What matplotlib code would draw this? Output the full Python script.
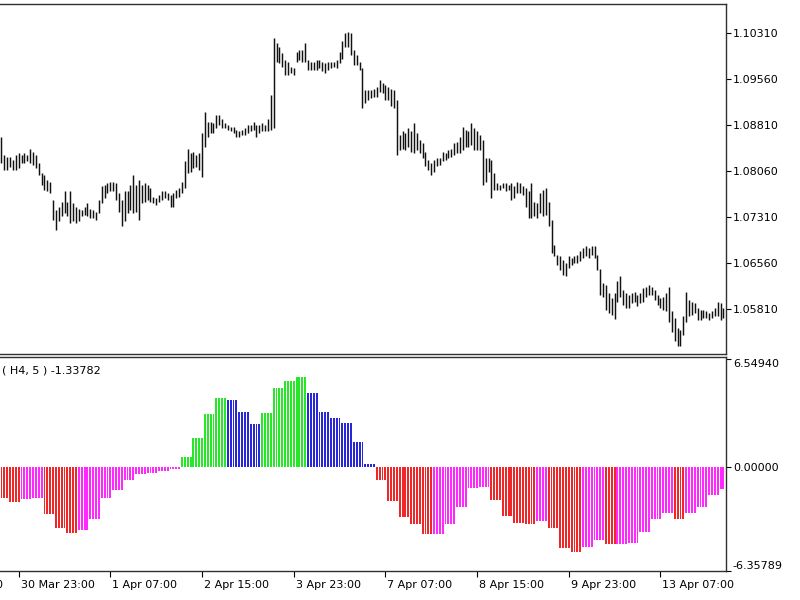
import numpy as np
import matplotlib.pyplot as plt

# H1 bars, EURUSD-like (high / low per bar)
highs = [
    1.0862, 1.0832, 1.0830, 1.0830, 1.0824, 1.0832, 1.0835, 1.0832, 1.0835, 1.0832,
    1.0843, 1.0838, 1.0832, 1.0819, 1.0803, 1.0800, 1.0792, 1.0789, 1.0759, 1.0743,
    1.0748, 1.0756, 1.0773, 1.0756, 1.0773, 1.0754, 1.0748, 1.0745, 1.0743, 1.0748,
    1.0754, 1.0745, 1.0743, 1.0740, 1.0759, 1.0781, 1.0784, 1.0786, 1.0789, 1.0789,
    1.0786, 1.0770, 1.0759, 1.0773, 1.0773, 1.0784, 1.0800, 1.0784, 1.0792, 1.0784,
    1.0786, 1.0784, 1.0778, 1.0764, 1.0762, 1.0767, 1.0773, 1.0773, 1.0770, 1.0767,
    1.0770, 1.0775, 1.0778, 1.0789, 1.0822, 1.0843, 1.0835, 1.0838, 1.0832, 1.0835,
    1.0868, 1.0903, 1.0887, 1.0887, 1.0884, 1.0898, 1.0898, 1.0892, 1.0884, 1.0881,
    1.0879, 1.0879, 1.0873, 1.0871, 1.0873, 1.0876, 1.0881, 1.0881, 1.0887, 1.0881,
    1.0881, 1.0884, 1.0881, 1.0892, 1.0931, 1.1023, 1.1015, 1.1009, 1.0999, 1.0988,
    1.0985, 1.0977, 1.0974, 1.1001, 1.1004, 1.1004, 1.1015, 1.0988, 1.0985, 1.0985,
    1.0988, 1.0988, 1.0985, 1.0982, 1.0985, 1.0985, 1.0985, 1.0988, 1.1001, 1.1018,
    1.1031, 1.1034, 1.1031, 1.1004, 1.0996, 1.0985, 1.0974, 1.0939, 1.0939, 1.0939,
    1.0941, 1.0944, 1.0955, 1.0950, 1.0947, 1.0944, 1.0941, 1.0939, 1.0922,
    1.0865, 1.0871, 1.0868, 1.0876, 1.0871, 1.0884, 1.0868, 1.0857, 1.0852, 1.0838,
    1.0824, 1.0819, 1.0824, 1.0827, 1.0827, 1.0838, 1.0835, 1.0841, 1.0843, 1.0852,
    1.0854, 1.0862, 1.0879, 1.0873, 1.0871, 1.0884, 1.0876, 1.0871, 1.0865, 1.0857,
    1.0827, 1.0827, 1.0824, 1.0803, 1.0786, 1.0784, 1.0786, 1.0786, 1.0784, 1.0786,
    1.0781, 1.0789, 1.0786, 1.0781, 1.0778, 1.0773, 1.0786, 1.0756, 1.0754, 1.0770,
    1.0775, 1.0778, 1.0756, 1.0726, 1.0686, 1.0669, 1.0667, 1.0661, 1.0656, 1.0667,
    1.0664, 1.0667, 1.0669, 1.0675, 1.0680, 1.0683, 1.0680, 1.0683, 1.0683, 1.0669,
    1.0647, 1.0623, 1.0620, 1.0607, 1.0598, 1.0607, 1.0626, 1.0634, 1.0612, 1.0607,
    1.0604, 1.0607, 1.0609, 1.0604, 1.0607, 1.0615, 1.0617, 1.0620, 1.0617, 1.0612,
    1.0604, 1.0598, 1.0601, 1.0607, 1.0617, 1.0577, 1.0566, 1.0549, 1.0547, 1.0569,
    1.0609, 1.0596, 1.0593, 1.0590, 1.0582, 1.0579, 1.0579, 1.0577, 1.0574, 1.0577,
    1.0582, 1.0593, 1.0590, 1.0582,
]
lows = [
    1.0819, 1.0808, 1.0808, 1.0813, 1.0808, 1.0808, 1.0811, 1.0819, 1.0819, 1.0822,
    1.0819, 1.0816, 1.0811, 1.0800, 1.0784, 1.0775, 1.0773, 1.0770, 1.0726, 1.0710,
    1.0724, 1.0732, 1.0737, 1.0732, 1.0721, 1.0724, 1.0721, 1.0724, 1.0732, 1.0735,
    1.0732, 1.0729, 1.0729, 1.0726, 1.0737, 1.0754, 1.0762, 1.0770, 1.0773, 1.0773,
    1.0759, 1.0740, 1.0716, 1.0724, 1.0737, 1.0743, 1.0737, 1.0740, 1.0726, 1.0754,
    1.0756, 1.0759, 1.0756, 1.0754, 1.0751, 1.0756, 1.0759, 1.0762, 1.0759, 1.0748,
    1.0748, 1.0762, 1.0764, 1.0770, 1.0778, 1.0803, 1.0805, 1.0811, 1.0813, 1.0808,
    1.0797, 1.0846, 1.0862, 1.0868, 1.0868, 1.0876, 1.0881, 1.0876, 1.0876, 1.0873,
    1.0871, 1.0868, 1.0862, 1.0862, 1.0865, 1.0865, 1.0868, 1.0871, 1.0873, 1.0862,
    1.0868, 1.0871, 1.0871, 1.0871, 1.0873, 1.0876, 1.0985, 1.0982, 1.0977, 1.0963,
    1.0963, 1.0966, 1.0963, 1.0985, 1.0988, 1.0985, 1.0985, 1.0971, 1.0971, 1.0971,
    1.0971, 1.0974, 1.0969, 1.0966, 1.0971, 1.0974, 1.0977, 1.0974, 1.0982, 1.0990,
    1.1009, 1.1009, 1.0996, 1.0980, 1.0980, 1.0971, 1.0909, 1.0917, 1.0922, 1.0925,
    1.0928, 1.0928, 1.0936, 1.0933, 1.0922, 1.0922, 1.0912, 1.0909, 1.0833,
    1.0841, 1.0843, 1.0841, 1.0846, 1.0838, 1.0835, 1.0841, 1.0835, 1.0827, 1.0814,
    1.0808, 1.0800, 1.0805, 1.0814, 1.0816, 1.0822, 1.0824, 1.0827, 1.0830, 1.0832,
    1.0835, 1.0835, 1.0841, 1.0846, 1.0846, 1.0849, 1.0841, 1.0841, 1.0841, 1.0783,
    1.0789, 1.0805, 1.0762, 1.0775, 1.0775, 1.0775, 1.0778, 1.0773, 1.0775, 1.0759,
    1.0762, 1.0770, 1.0770, 1.0767, 1.0748, 1.0729, 1.0729, 1.0732, 1.0729, 1.0737,
    1.0732, 1.0735, 1.0716, 1.0672, 1.0667, 1.0653, 1.0645, 1.0637, 1.0634, 1.0648,
    1.0653, 1.0656, 1.0656, 1.0659, 1.0664, 1.0667, 1.0664, 1.0669, 1.0664, 1.0645,
    1.0604, 1.0601, 1.0579, 1.0574, 1.0571, 1.0565, 1.0593, 1.0601, 1.0588, 1.0582,
    1.0582, 1.0590, 1.0593, 1.0585, 1.0590, 1.0593, 1.0601, 1.0604, 1.0604, 1.0596,
    1.0588, 1.0582, 1.0579, 1.0577, 1.0560, 1.0544, 1.0528, 1.0520, 1.0520, 1.0539,
    1.0560, 1.0569, 1.0571, 1.0574, 1.0563, 1.0563, 1.0566, 1.0566, 1.0563, 1.0566,
    1.0569, 1.0569, 1.0563, 1.0566,
]

# H4 indicator values (one per H4 bar) and their colour state
hist_values = [
    -1.93, -2.17, -1.95, -1.92, -2.90, -3.71, -4.02, -3.85, -3.18, -1.93,
    -1.42, -0.81, -0.46, -0.36, -0.26, -0.16, 0.57, 1.73, 3.19, 4.16,
    4.06, 3.35, 2.58, 3.29, 4.77, 5.22, 5.44, 4.50, 3.35, 2.95,
    2.66, 1.52, 0.15, -0.81, -2.09, -3.08, -3.51, -4.12, -4.10, -3.51,
    -2.47, -1.32, -1.26, -2.03, -2.98, -3.43, -3.51, -3.33, -3.77, -4.97,
    -5.23, -4.91, -4.46, -4.73, -4.70, -4.66, -3.96, -3.18, -2.80, -3.18,
    -2.80, -2.47, -1.72, -1.34,
]
hist_states = list("rrmmrrrmmmmmmmmmggggbbbggggbbbbbbrrrrrmmmmmrrrrmrrrmmrmmmmmrmmmm")

price_ticks = [1.10310, 1.09560, 1.08810, 1.08060, 1.07310, 1.06560, 1.05810]
ind_ticks = [6.54940, 0.0, -6.35789]
date_labels = ["27 Mar 15:00", "30 Mar 23:00", "1 Apr 07:00", "2 Apr 15:00", "3 Apr 23:00",
               "7 Apr 07:00", "8 Apr 15:00", "9 Apr 23:00", "13 Apr 07:00"]
date_bars = [-26, 6, 38, 70, 102, 134, 166, 198, 230]

state_colors = {"r": "#EE2828", "m": "#FF28FF", "g": "#28E628", "b": "#2828D8"}

plt.rcParams["font.family"] = "DejaVu Sans"
plt.rcParams["font.size"] = 8

n = len(highs)
x = np.arange(n)
# each H4 value covers the H1 bars inside it (first group is partial)
group = np.minimum((x + 1) // 4, len(hist_values) - 1)
bar_vals = np.array(hist_values)[group]
bar_cols = [state_colors[hist_states[g]] for g in group]

W, H = 800, 600
fig = plt.figure(figsize=(8, 6), dpi=100)
ax1 = fig.add_axes([0, 1 - 354 / H, 726 / W, 350 / H])
ax2 = fig.add_axes([0, 1 - 571 / H, 726 / W, 214 / H])

xlim = (-0.52, 252.9)
frame = "#303030"

# price bars
ax1.vlines(x, lows, highs, color="#111111", linewidth=1.05)
ax1.set_xlim(*xlim)
ax1.set_ylim(1.05073, 1.10792)
ax1.yaxis.tick_right()
ax1.set_yticks(price_ticks)
ax1.set_yticklabels([f"{v:.5f}" for v in price_ticks])
ax1.set_xticks([])

# indicator histogram
ax2.bar(x, bar_vals, width=0.66, color=bar_cols, linewidth=0, antialiased=False)
ax2.set_xlim(*xlim)
ax2.set_ylim(-6.36, 6.677)
ax2.yaxis.tick_right()
ax2.set_yticks(ind_ticks)
ax2.set_yticklabels([f"{v:.5f}" for v in ind_ticks])
labs = ax2.get_yticklabels()
labs[0].set_va("top")
labs[2].set_va("bottom")
ax2.set_xticks([b for b in date_bars if b >= 0])
ax2.set_xticklabels([])
for b, lab in zip(date_bars, date_labels):
    ax2.text(b + 0.7, -0.04, lab, transform=ax2.get_xaxis_transform(),
             ha="left", va="top", fontsize=8, clip_on=False)
ax2.text(2 / 726, 0.935, "( H4, 5 ) -1.33782", transform=ax2.transAxes,
         ha="left", va="center", fontsize=8)

for ax in (ax1, ax2):
    ax.spines["left"].set_visible(False)
    for s in ("top", "right", "bottom"):
        ax.spines[s].set_color(frame)
        ax.spines[s].set_linewidth(1.0)
    ax.tick_params(axis="y", direction="out", length=3.5, width=0.8, pad=1.5, colors="black")
    ax.tick_params(axis="x", direction="out", length=4, width=0.8, colors="black")

fig.savefig("out.png", dpi=100)
